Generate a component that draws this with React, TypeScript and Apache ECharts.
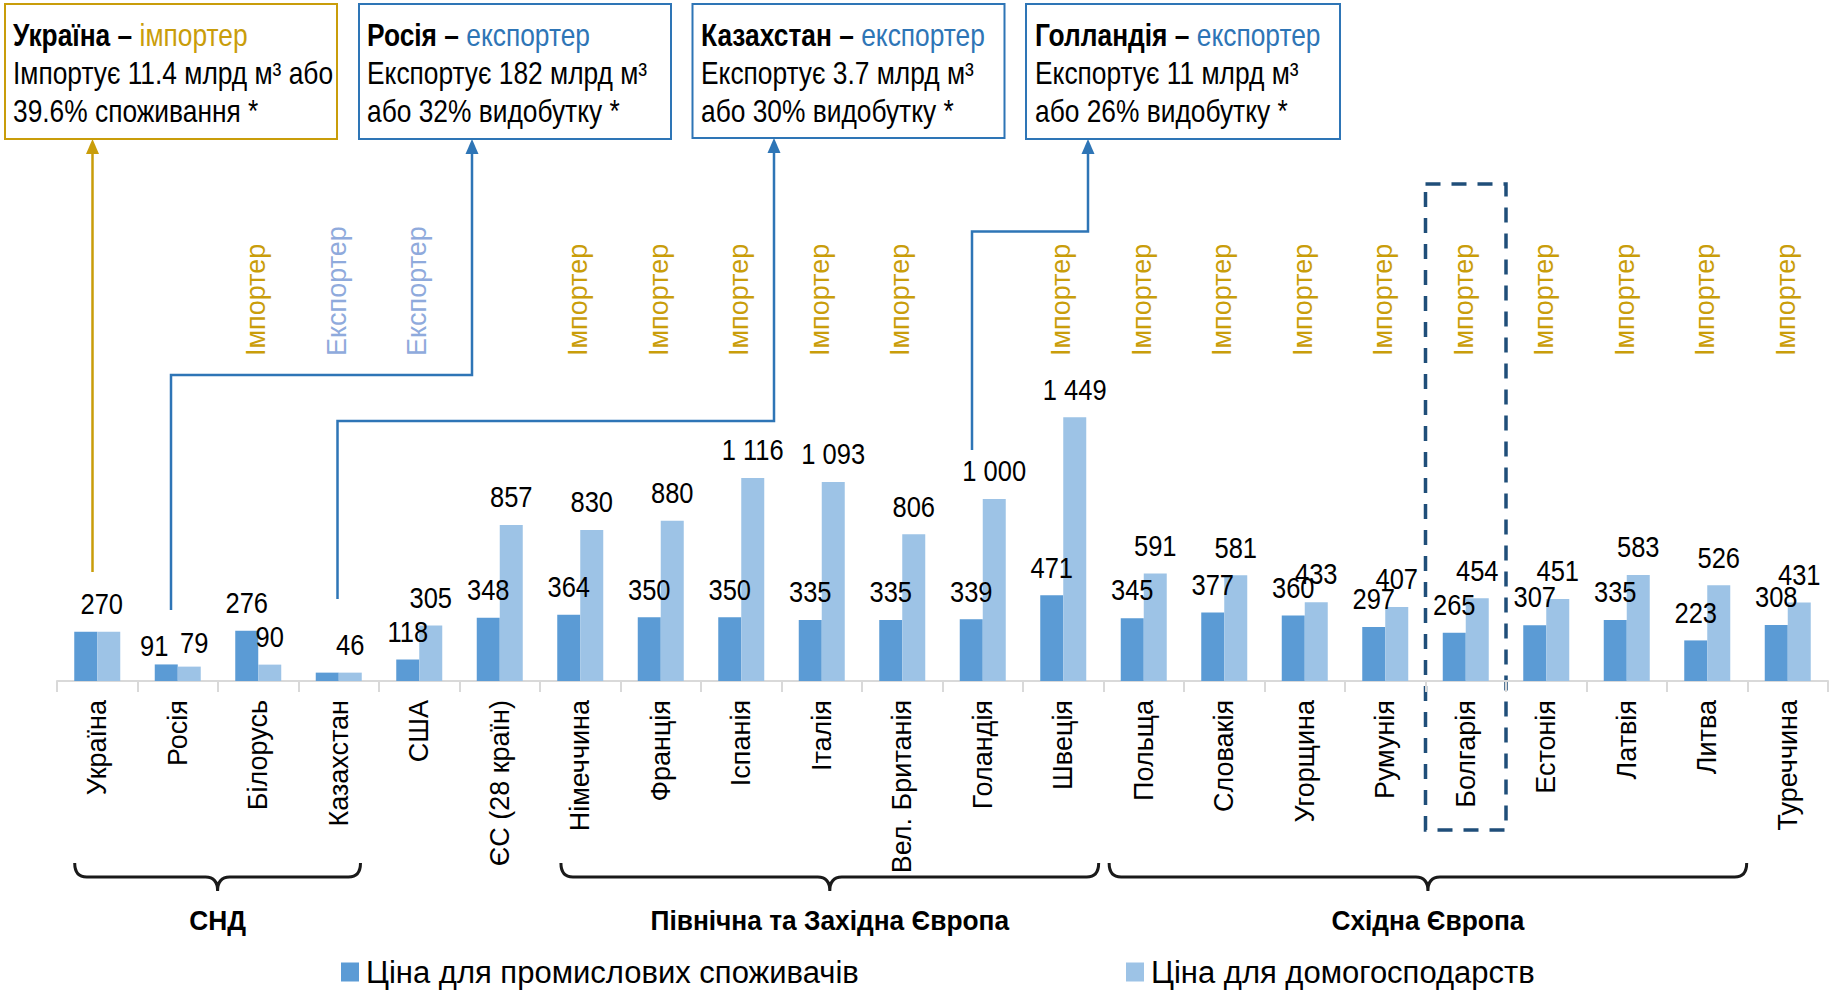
import React, { useEffect, useRef } from "react";
import * as echarts from "echarts";

const categories = [
  "Україна", "Росія", "Білорусь", "Казахстан", "США", "ЄС (28 країн)",
  "Німеччина", "Франція", "Іспанія", "Італія", "Вел. Британія", "Голандія",
  "Швеція", "Польща", "Словакія", "Угорщина", "Румунія", "Болгарія",
  "Естонія", "Латвія", "Литва", "Туреччина",
];
const industrial = [270, 91, 276, 46, 118, 348, 364, 350, 350, 335, 335, 339, 471, 345, 377, 360, 297, 265, 307, 335, 223, 308];
const household = [270, 79, 90, 46, 305, 857, 830, 880, 1116, 1093, 806, 1000, 1449, 591, 581, 433, 407, 454, 451, 583, 526, 431];
const status = ["", "", "Імпортер", "Експортер", "Експортер", "", "Імпортер", "Імпортер", "Імпортер", "Імпортер", "Імпортер", "", "Імпортер", "Імпортер", "Імпортер", "Імпортер", "Імпортер", "Імпортер", "Імпортер", "Імпортер", "Імпортер", "Імпортер"];
const seriesNames = ["Ціна для промислових споживачів", "Ціна для домогосподарств"];
// group spans in category units (0 = left edge of first category)
const groups = [
  { name: "СНД", from: 0.22, to: 3.77 },
  { name: "Північна та Західна Європа", from: 6.26, to: 12.94 },
  { name: "Східна Європа", from: 13.07, to: 20.99 },
];
const boxes = [
  { title: "Україна – ", role: "імпортер", kind: "imp", line2: "Імпортує 11.4 млрд м³ або", line3: "39.6% споживання *" },
  { title: "Росія – ", role: "експортер", kind: "exp", line2: "Експортує 182 млрд м³", line3: "або 32% видобутку *" },
  { title: "Казахстан – ", role: "експортер", kind: "exp", line2: "Експортує 3.7 млрд м³", line3: "або 30% видобутку *" },
  { title: "Голландія – ", role: "експортер", kind: "exp", line2: "Експортує 11 млрд м³", line3: "або 26% видобутку *" },
];

const SANS = '"Liberation Sans", Arial, sans-serif';
const NARROW_SCALE = 0.85;
const DARK = "#5B9BD5";
const LIGHT = "#9DC3E6";
const GOLD = "#C99D0A";
const BLUE = "#2E75B6";
const EXPLIGHT = "#8FAADC";

const Brace = echarts.graphic.extendShape({
  shape: { x1: 0, x2: 0, xm: 0, yTop: 0, yMid: 0, yTip: 0, r: 10 },
  buildPath(ctx: any, s: any) {
    ctx.moveTo(s.x1, s.yTop);
    ctx.quadraticCurveTo(s.x1, s.yMid, s.x1 + s.r, s.yMid);
    ctx.lineTo(s.xm - s.r, s.yMid);
    ctx.quadraticCurveTo(s.xm, s.yMid, s.xm, s.yTip);
    ctx.moveTo(s.xm, s.yTip);
    ctx.quadraticCurveTo(s.xm, s.yMid, s.xm + s.r, s.yMid);
    ctx.lineTo(s.x2 - s.r, s.yMid);
    ctx.quadraticCurveTo(s.x2, s.yMid, s.x2, s.yTop);
  },
});
echarts.graphic.registerShape("brace", Brace);

const fmt = (v: number) => String(v).replace(/\B(?=(\d{3})+(?!\d))/g, " ");

// label tweaks: [series]-[index] -> {hide, dx, dy}
const labelTweaks: Record<string, { hide?: boolean; dx?: number; dy?: number }> = {
  "0-0": { hide: true },
  "0-3": { hide: true },
  "0-1": { dx: -12, dy: 9 },
  "1-0": { dx: -7 },
  "1-1": { dx: 5, dy: 4 },
};

const BAR_W = 23;

export default function App() {
  const ref = useRef<HTMLDivElement>(null);
  useEffect(() => {
    const chart = echarts.init(ref.current!, null, { renderer: "svg" });

    const labelSeries = (values: number[], s: number) => ({
      type: "custom",
      silent: true,
      z: 10,
      encode: { x: 0, y: 1 },
      data: values.map((v, i) => [i, v]),
      renderItem: (params: any, api: any) => {
        const i = api.value(0);
        const v = api.value(1);
        const t = labelTweaks[`${s}-${i}`] || {};
        if (t.hide) return null;
        const p = api.coord([i, v]);
        return {
          type: "text",
          x: p[0] + (s === 0 ? -BAR_W / 2 : BAR_W / 2) + (t.dx || 0),
          y: p[1] - 13 + (t.dy || 0),
          scaleX: NARROW_SCALE,
          style: {
            text: fmt(v),
            fontSize: 30,
            fontFamily: SANS,
            fill: "#000",
            align: "center",
            verticalAlign: "bottom",
          },
        };
      },
    });

    const legendCommon = {
      icon: "rect",
      itemWidth: 18,
      itemHeight: 19,
      itemGap: 6,
      padding: 0,
      top: 955,
      textStyle: { fontSize: 31, fontFamily: SANS, color: "#000", lineHeight: 34, padding: [0, 0, 0, 2] },
    };
    chart.setOption({
      animation: false,
      backgroundColor: "#fff",
      grid: { left: 57, right: 9, top: 408, bottom: 311 },
      legend: [
        { ...legendCommon, data: [seriesNames[0]], left: 341 },
        { ...legendCommon, data: [seriesNames[1]], left: 1126 },
      ],
      xAxis: {
        type: "category",
        data: categories,
        axisLine: { lineStyle: { color: "#D9D9D9", width: 2 } },
        axisTick: { show: true, length: 11, lineStyle: { color: "#D9D9D9", width: 2 } },
        axisLabel: { rotate: 90, interval: 0, fontSize: 27, fontFamily: SANS, color: "#000", margin: 19 },
      },
      yAxis: { type: "value", min: 0, max: 1500, show: false, splitLine: { show: false } },
      series: [
        { name: seriesNames[0], type: "bar", data: industrial, barWidth: BAR_W, barGap: "0%", itemStyle: { color: DARK } },
        { name: seriesNames[1], type: "bar", data: household, barWidth: BAR_W, barGap: "0%", itemStyle: { color: LIGHT } },
        labelSeries(industrial, 0),
        labelSeries(household, 1),
      ],
    });

    const cx = (i: number) => chart.convertToPixel({ xAxisIndex: 0 }, i) as number;
    const step = cx(1) - cx(0);
    const edge = (pos: number) => cx(0) - step / 2 + pos * step;
    const g: any[] = [];

    // status labels
    status.forEach((s, i) => {
      if (!s) return;
      g.push({
        type: "text",
        x: cx(i) - 2,
        y: 356,
        rotation: Math.PI / 2,
        style: {
          text: s,
          fontSize: 27,
          fontFamily: SANS,
          fill: s === "Імпортер" ? GOLD : EXPLIGHT,
          align: "left",
          verticalAlign: "middle",
        },
      });
    });

    // boxes
    const boxRects = [
      { x: 5, y: 4, w: 332, h: 135, tx: 13 },
      { x: 359, y: 4, w: 312, h: 135, tx: 367 },
      { x: 692.5, y: 4, w: 312, h: 134, tx: 701 },
      { x: 1026, y: 4, w: 314, h: 135, tx: 1035 },
    ];
    boxes.forEach((b, i) => {
      const r = boxRects[i];
      const col = b.kind === "imp" ? GOLD : BLUE;
      g.push({
        type: "rect",
        shape: { x: r.x, y: r.y, width: r.w, height: r.h },
        style: { fill: "#fff", stroke: col, lineWidth: 2 },
      });
      g.push({
        type: "text",
        x: r.tx,
        y: 16,
        scaleX: NARROW_SCALE,
        style: {
          text: `{t|${b.title}}{r|${b.role}}\n{n|${b.line2}}\n{n|${b.line3}}`,
          verticalAlign: "top",
          align: "left",
          rich: {
            t: { fontSize: 31, fontFamily: SANS, fontWeight: "bold", fill: "#000", lineHeight: 38 },
            r: { fontSize: 31, fontFamily: SANS, fill: col, lineHeight: 38 },
            n: { fontSize: 31, fontFamily: SANS, fill: "#000", lineHeight: 38 },
          },
        },
      });
    });

    // connectors
    const conns = [
      { pts: [[92.5, 572], [92.5, 150]], col: GOLD, tipX: 92.5, tipY: 139 },
      { pts: [[171, 610], [171, 375], [472, 375], [472, 150]], col: BLUE, tipX: 472, tipY: 139 },
      { pts: [[337.5, 599], [337.5, 421], [774, 421], [774, 149]], col: BLUE, tipX: 774, tipY: 138 },
      { pts: [[972, 450], [972, 231.5], [1088, 231.5], [1088, 150]], col: BLUE, tipX: 1088, tipY: 139 },
    ];
    conns.forEach((c) => {
      g.push({ type: "polyline", shape: { points: c.pts }, style: { stroke: c.col, lineWidth: 2.5, fill: "none" } });
      g.push({
        type: "polygon",
        shape: { points: [[c.tipX, c.tipY], [c.tipX - 6.5, c.tipY + 15], [c.tipX + 6.5, c.tipY + 15]] },
        style: { fill: c.col },
      });
    });

    // dashed box around Bulgaria
    const bi = categories.indexOf("Болгарія");
    g.push({
      type: "rect",
      shape: { x: cx(bi) - step / 2, y: 184, width: step, height: 646 },
      style: { fill: "none", stroke: "#1F4E79", lineWidth: 3.5, lineDash: [15, 11] },
    });

    // braces and group labels
    groups.forEach((gr) => {
      const x1 = edge(gr.from);
      const x2 = edge(gr.to);
      const xm = (x1 + x2) / 2;
      g.push({
        type: "brace",
        shape: { x1, x2, xm, yTop: 863, yMid: 877, yTip: 891, r: 12 },
        style: { stroke: "#1A1A1A", lineWidth: 3, fill: "none" },
      });
      g.push({
        type: "text",
        x: xm,
        y: 920,
        scaleX: 0.94,
        style: {
          text: gr.name,
          fontSize: 28,
          fontWeight: "bold",
          fontFamily: SANS,
          fill: "#000",
          align: "center",
          verticalAlign: "middle",
        },
      });
    });

    chart.setOption({ graphic: g });
    return () => chart.dispose();
  }, []);
  return <div ref={ref} style={{ position: "fixed", left: 0, top: 0, width: 1837, height: 992, background: "#fff" }} />;
}
